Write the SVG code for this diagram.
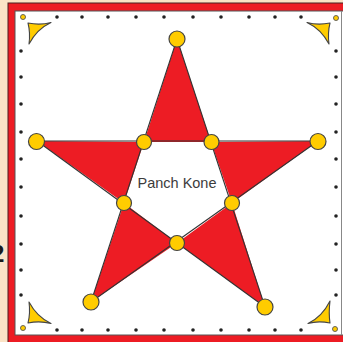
<svg xmlns="http://www.w3.org/2000/svg" width="343" height="342" viewBox="0 0 343 342">
<defs>
<style>
.tri{fill:#ed1c24;stroke:none}
.edge{stroke:#333;stroke-width:1.1;fill:none}
.node{fill:#ffcc00;stroke:#444;stroke-width:1.2}
.dot{fill:#222}
.horn{fill:#ffcc00;stroke:#444;stroke-width:1.1;stroke-linejoin:round}
.cdot{fill:#ffcc00;stroke:#555;stroke-width:0.9}
.lbl{font-family:"Liberation Sans","Open Sans",sans-serif;font-size:14.5px;fill:#3c3c3c;text-anchor:middle}
</style>
</defs>
<rect x="0" y="0" width="343" height="342" fill="#fbe3c6"/>
<text x="-9" y="262" font-family="Liberation Sans, sans-serif" font-size="24" font-weight="bold" fill="#1a1a1a">2</text>
<rect x="8" y="3" width="345" height="350" fill="#ed1c24" stroke="#4a2020" stroke-width="1"/>
<rect x="15" y="11" width="340" height="324" fill="#ffffff" stroke="#555" stroke-width="1"/>
<line x1="341.5" y1="11" x2="341.5" y2="335" stroke="#888" stroke-width="1"/>

<g id="border-dots">
<g class="dot">
<circle cx="57" cy="17" r="1.8"/><circle cx="82" cy="17" r="1.8"/><circle cx="108" cy="17" r="1.8"/><circle cx="136" cy="17" r="1.8"/><circle cx="164" cy="17" r="1.8"/><circle cx="193" cy="17" r="1.8"/><circle cx="221" cy="17" r="1.8"/><circle cx="249" cy="17" r="1.8"/><circle cx="275" cy="17" r="1.8"/><circle cx="301" cy="17" r="1.8"/>
<circle cx="57" cy="330" r="1.8"/><circle cx="82" cy="330" r="1.8"/><circle cx="108" cy="330" r="1.8"/><circle cx="136" cy="330" r="1.8"/><circle cx="164" cy="330" r="1.8"/><circle cx="193" cy="330" r="1.8"/><circle cx="221" cy="330" r="1.8"/><circle cx="249" cy="330" r="1.8"/><circle cx="275" cy="330" r="1.8"/><circle cx="301" cy="330" r="1.8"/>
<circle cx="21" cy="51" r="1.8"/><circle cx="21" cy="77" r="1.8"/><circle cx="21" cy="104" r="1.8"/><circle cx="21" cy="132" r="1.8"/><circle cx="21" cy="159" r="1.8"/><circle cx="21" cy="187" r="1.8"/><circle cx="21" cy="216" r="1.8"/><circle cx="21" cy="244" r="1.8"/><circle cx="21" cy="270" r="1.8"/><circle cx="21" cy="295" r="1.8"/>
<circle cx="336" cy="51" r="1.8"/><circle cx="336" cy="77" r="1.8"/><circle cx="336" cy="104" r="1.8"/><circle cx="336" cy="132" r="1.8"/><circle cx="336" cy="159" r="1.8"/><circle cx="336" cy="187" r="1.8"/><circle cx="336" cy="216" r="1.8"/><circle cx="336" cy="244" r="1.8"/><circle cx="336" cy="270" r="1.8"/><circle cx="336" cy="295" r="1.8"/>
</g>
<circle class="cdot" cx="23" cy="17" r="2.5"/>
<circle class="cdot" cx="336" cy="18" r="2.5"/>
<circle class="cdot" cx="23" cy="328" r="2.5"/>
<circle class="cdot" cx="335" cy="329" r="2.5"/>
</g>

<g id="corner-horns">
<path class="horn" d="M28,23 Q40,25.5 51,22.5 Q37,29 29,44 Q30.5,33 28,23 Z"/>
<path class="horn" d="M330,23 Q318,25.5 307,22.5 Q321,29 329,44 Q327.5,33 330,23 Z"/>
<path class="horn" d="M28,323 Q40,320.5 51,323.5 Q37,317 29,302 Q30.5,313 28,323 Z"/>
<path class="horn" d="M330,323 Q318,320.5 308,323.5 Q322,317 330,301 Q328.5,313 330,323 Z"/>
</g>

<g id="star-points">
<polygon class="tri" points="177,39 144,142 211,142"/>
<polygon class="tri" points="37,141 144,142 124,203"/>
<polygon class="tri" points="318,141 211,142 232,203"/>
<polygon class="tri" points="91,302 124,203 177,243"/>
<polygon class="tri" points="265,307 232,203 177,243"/>
</g>

<g id="connectors">
<line class="edge" x1="177" y1="39" x2="91" y2="302"/>
<line class="edge" x1="177" y1="39" x2="265" y2="307"/>
<line class="edge" x1="37" y1="141" x2="318" y2="141"/>
<line class="edge" x1="37" y1="141" x2="265" y2="307"/>
<line class="edge" x1="318" y1="141" x2="91" y2="302"/>
</g>

<g id="node-top"><circle class="node" cx="177" cy="39" r="8"/></g>
<g id="node-left"><circle class="node" cx="36.5" cy="141.5" r="8"/></g>
<g id="node-right"><circle class="node" cx="318" cy="141.5" r="8"/></g>
<g id="node-bottom-left"><circle class="node" cx="91" cy="302" r="8"/></g>
<g id="node-bottom-right"><circle class="node" cx="265" cy="307" r="8"/></g>
<g id="node-inner-ul"><circle class="node" cx="144" cy="142" r="7.5"/></g>
<g id="node-inner-ur"><circle class="node" cx="211.5" cy="142" r="7.5"/></g>
<g id="node-inner-ll"><circle class="node" cx="124" cy="203" r="7.5"/></g>
<g id="node-inner-lr"><circle class="node" cx="232" cy="203" r="7.5"/></g>
<g id="node-inner-bottom"><circle class="node" cx="177" cy="243" r="7.5"/></g>

<g id="label"><text class="lbl" x="177" y="188">Panch Kone</text></g>
</svg>
